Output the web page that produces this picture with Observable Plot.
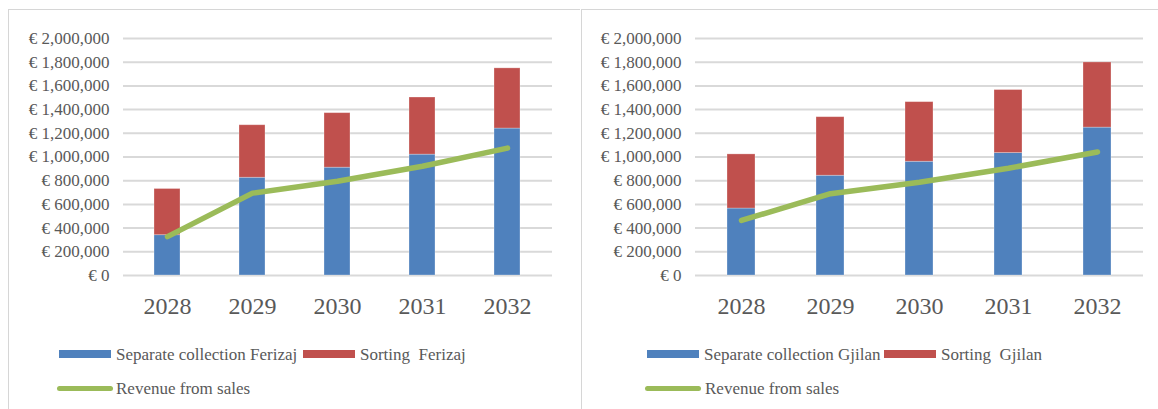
<!DOCTYPE html>
<html>
<head>
<meta charset="utf-8">
<script src="https://cdn.jsdelivr.net/npm/d3@7"></script>
<script src="https://cdn.jsdelivr.net/npm/@observablehq/plot@0.6"></script>
<style>
  html, body { margin: 0; padding: 0; background: #fff; }
  #root { position: relative; width: 1158px; height: 409px; overflow: hidden; font-family: "Liberation Serif", serif; color: #595959; }
  .panel { position: absolute; top: 9px; height: 420px; border-left: 1.5px solid #d6d6d6; border-top: 1.5px solid #d6d6d6; box-sizing: border-box; }
  .chart { position: absolute; top: 0; }
  .leg { position: absolute; font-size: 17px; line-height: 1; white-space: pre; }
  .sw { position: absolute; height: 8px; }
  .ln { position: absolute; height: 5px; border-radius: 3px; background: #9BBB59; }
</style>
</head>
<body>
<div id="root"></div>
<script>
const years = ["2028", "2029", "2030", "2031", "2032"];
const yTicks = [0, 200000, 400000, 600000, 800000, 1000000, 1200000, 1400000, 1600000, 1800000, 2000000];

const ferizajLabels = ["Separate collection Ferizaj", "Sorting  Ferizaj"];
const ferizajCollection = [340000, 825000, 910000, 1020000, 1240000];
const ferizajSorting = [390000, 443000, 460000, 482000, 508000];
const ferizajRevenue = [328000, 695000, 795000, 922000, 1075000];

const gjilanLabels = ["Separate collection Gjilan", "Sorting  Gjilan"];
const gjilanCollection = [565000, 842000, 960000, 1033000, 1248000];
const gjilanSorting = [457000, 494000, 503000, 532000, 550000];
const gjilanRevenue = [465000, 690000, 787000, 905000, 1042000];

const revenueLabel = "Revenue from sales";
const colors = ["#4F81BD", "#C0504D"];
const lineColor = "#9BBB59";
const serif = "Liberation Serif, serif";

function chart({collection, sorting, revenue, labels, width, marginLeft, marginRight, padding}) {
  const bars = years.flatMap((y, i) => [
    {year: y, series: labels[0], value: collection[i]},
    {year: y, series: labels[1], value: sorting[i]}
  ]);
  const line = years.map((y, i) => ({year: y, value: revenue[i]}));
  return Plot.plot({
    width, height: 330,
    marginLeft, marginRight, marginTop: 38, marginBottom: 55,
    style: {fontFamily: serif, color: "#595959", background: "transparent", overflow: "visible"},
    x: {domain: years, paddingInner: padding, paddingOuter: padding / 2},
    y: {domain: [0, 2000000]},
    color: {domain: labels, range: colors},
    marks: [
      Plot.ruleY(yTicks, {stroke: "#d9d9d9", strokeWidth: 2}),
      Plot.axisY({ticks: yTicks, tickSize: 0, tickPadding: 14, fontSize: 17, fontFamily: serif, fill: "#595959", label: null,
        tickFormat: d => "€ " + d3.format(",")(d)}),
      Plot.axisX({tickSize: 0, tickPadding: 21, fontSize: 24, fontFamily: serif, fill: "#595959", label: null}),
      Plot.barY(bars, {x: "year", y: "value", fill: "series", stroke: "#ffffff", strokeOpacity: 0.35, strokeWidth: 0.8}),
      Plot.line(line, {x: "year", y: "value", stroke: lineColor, strokeWidth: 5.5, strokeLinecap: "round", strokeLinejoin: "round"})
    ]
  });
}

const root = document.getElementById("root");

function addPanel(left, w) {
  const p = document.createElement("div");
  p.className = "panel";
  p.style.left = left + "px";
  p.style.width = w + "px";
  root.appendChild(p);
}
addPanel(8, 572);
addPanel(581, 600);

function place(el, left) {
  el.classList.add("chart");
  el.style.left = left + "px";
  root.appendChild(el);
}

place(chart({collection: ferizajCollection, sorting: ferizajSorting, revenue: ferizajRevenue, labels: ferizajLabels,
  width: 580, marginLeft: 123, marginRight: 28, padding: 0.69}), 0);
place(chart({collection: gjilanCollection, sorting: gjilanSorting, revenue: gjilanRevenue, labels: gjilanLabels,
  width: 577, marginLeft: 114, marginRight: 15, padding: 0.684}), 581);

function legend(labels, sw1, t1, sw2, t2, lnX, tl) {
  const add = (cls, css, text) => {
    const d = document.createElement("div");
    d.className = cls;
    Object.assign(d.style, css);
    if (text) d.textContent = text;
    root.appendChild(d);
  };
  add("sw", {left: sw1 + "px", width: "52px", top: "349.5px", background: colors[0]});
  add("leg", {left: t1 + "px", top: "346px"}, labels[0]);
  add("sw", {left: sw2 + "px", width: "52px", top: "349.5px", background: colors[1]});
  add("leg", {left: t2 + "px", top: "346px"}, labels[1]);
  add("ln", {left: lnX + "px", width: "56px", top: "385.5px"});
  add("leg", {left: tl + "px", top: "380px"}, revenueLabel);
}
legend(ferizajLabels, 59, 116, 303, 360, 57, 116);
legend(gjilanLabels, 647, 704, 884, 941, 645, 705);
</script>
</body>
</html>
